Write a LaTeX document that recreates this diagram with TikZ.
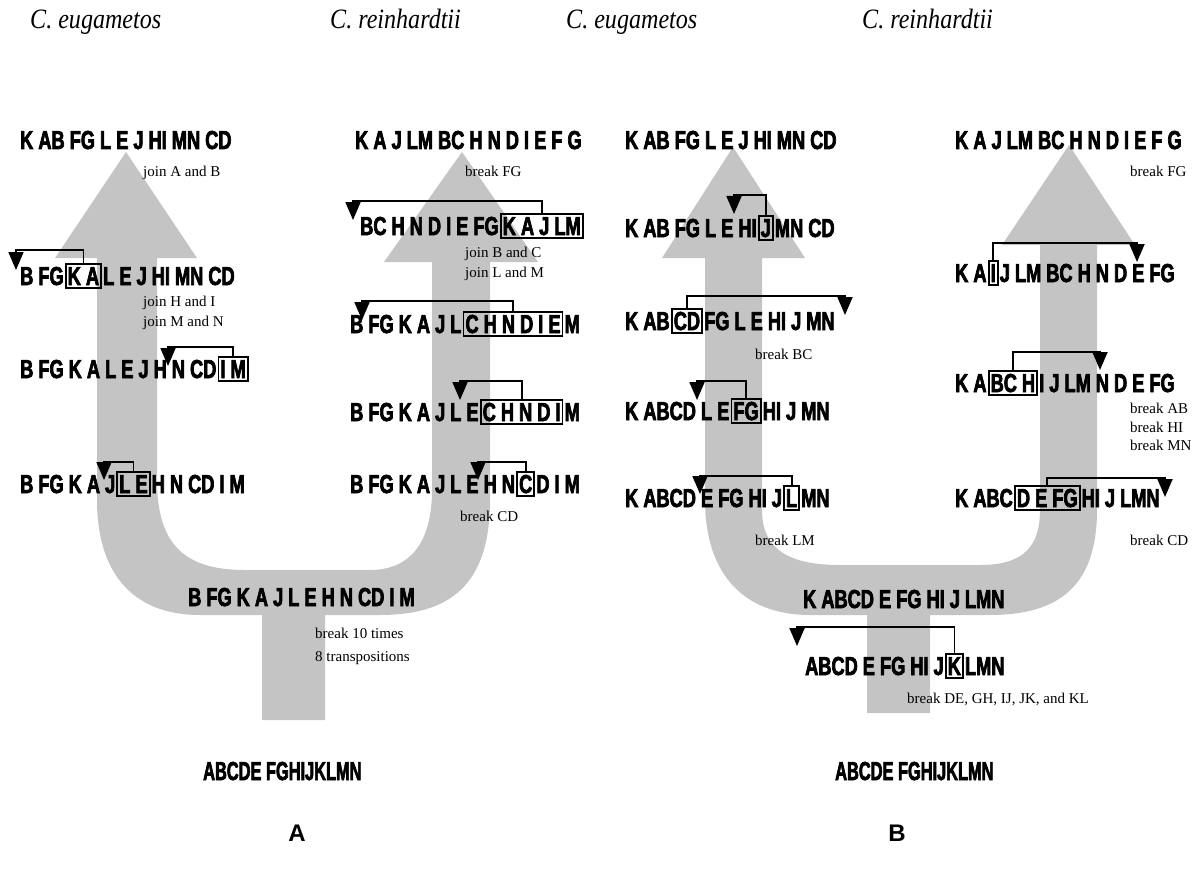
\documentclass[tikz,border=0pt]{standalone}
\usepackage{fontspec}
\setmainfont{Liberation Serif}
\newfontfamily\sqf[FakeStretch=0.7,FakeBold=2.6]{Liberation Sans Bold}
\newfontfamily\labf{Liberation Sans Bold}
\newfontfamily\ttf[FakeStretch=0.86]{Liberation Serif Italic}
\usetikzlibrary{arrows.meta}
\tikzset{
  seq/.style={font=\sqf\fontsize{26}{30}\selectfont, inner sep=0pt, anchor=base west},
  bx/.style={seq, draw, line width=1.8pt, inner xsep=2pt, inner ysep=3pt},
  note/.style={font=\fontsize{15}{18}\selectfont, inner sep=0pt, anchor=base west},
  ttl/.style={font=\ttf\fontsize{28}{32}\selectfont, inner sep=0pt, anchor=base west},
  lab/.style={font=\labf\fontsize{24}{28}\selectfont, inner sep=0pt},
  brk/.style={line width=1.8pt, -{Triangle[width=15pt,length=18pt]}},
  band/.style={fill=black!23, draw=none}
}
\begin{document}
\begin{tikzpicture}[x=1pt,y=-1pt]
\useasboundingbox (0,0) rectangle (1192,872);
% ---------- gray arrows ----------
\fill[band] (126,152) -- (197,258) -- (157,258) -- (157,480)
  .. controls (157,545) and (185,570) .. (245,570) -- (370,570)
  .. controls (412,570) and (432,540) .. (432,490) -- (432,262) -- (384,262)
  -- (462,152) -- (538,262) -- (490,262) -- (490,500)
  .. controls (490,585) and (450,615) .. (380,615) -- (325,615) -- (325,720)
  -- (262,720) -- (262,615) -- (200,615)
  .. controls (130,615) and (97,570) .. (97,500) -- (97,258) -- (55,258) -- cycle;
\fill[band] (733,147) -- (805,258) -- (762,258) -- (762,510)
  .. controls (762,550) and (790,565) .. (840,565) -- (980,565)
  .. controls (1025,565) and (1040,545) .. (1040,510) -- (1040,245) -- (1002,245)
  -- (1069,145) -- (1135,245) -- (1097,245) -- (1097,510)
  .. controls (1097,585) and (1060,615) .. (990,615) -- (930,615) -- (930,713)
  -- (867,713) -- (867,615) -- (810,615)
  .. controls (740,615) and (705,570) .. (705,500) -- (705,258) -- (662,258) -- cycle;
% ---------- titles ----------
\node[ttl] (t1) at (30,29) {C. eugametos};
\node[ttl] (t2) at (330,29) {C. reinhardtii};
\node[ttl] (t3) at (566,29) {C. eugametos};
\node[ttl] (t4) at (862,29) {C. reinhardtii};
% ================= PANEL A =================
% left column
\node[seq] (a11) at (20,149) {K AB FG L E J HI MN CD};
\node[note] (na1) at (143,176) {join A and B};
\node[seq] (a21) at (20,285) {B FG};
\node[bx] (a2b) at ([xshift=1pt]a21.base east) {K A};
\node[seq] (a22) at ([xshift=1pt]a2b.base east) {L E J HI MN CD};
\coordinate (a2c) at (16,250); \coordinate (a2t) at (16,270);
\draw[brk] (a2b.north) |- (a2c) -- (a2t);
\node[note] (na2) at (143,306) {join H and I};
\node[note] (na3) at (143,326) {join M and N};
\node[seq] (a31) at (20,378) {B FG K A L E J H N CD};
\node[bx] (a3b) at ([xshift=1pt]a31.base east) {I M};
\coordinate (a3c) at (168,347); \coordinate (a3t) at (168,366);
\draw[brk] (a3b.north) |- (a3c) -- (a3t);
\node[seq] (a41) at (20,493) {B FG K A J};
\node[bx] (a4b) at ([xshift=1pt]a41.base east) {L E};
\node[seq] (a42) at ([xshift=1pt]a4b.base east) {H N CD I M};
\coordinate (a4c) at (104,462); \coordinate (a4t) at (104,480);
\draw[brk] (a4b.north) |- (a4c) -- (a4t);
% right column
\node[seq] (b11) at (355,149) {K A J LM BC H N D I E F G};
\node[note] (nb1) at (465,176) {break FG};
\node[seq] (b21) at (360,235) {BC H N D I E FG};
\node[bx] (b2b) at ([xshift=1pt]b21.base east) {K A J LM};
\coordinate (b2c) at (353,201); \coordinate (b2t) at (353,220);
\draw[brk] (b2b.north) |- (b2c) -- (b2t);
\node[note] (nb2) at (465,257) {join B and C};
\node[note] (nb3) at (465,277) {join L and M};
\node[seq] (b31) at (350,333) {B FG K A J L};
\node[bx] (b3b) at ([xshift=1pt]b31.base east) {C H N D I E};
\node[seq] (b32) at ([xshift=1pt]b3b.base east) {M};
\coordinate (b3c) at (362,301); \coordinate (b3t) at (362,320);
\draw[brk] (b3b.north) |- (b3c) -- (b3t);
\node[seq] (b41) at (350,421) {B FG K A J L E};
\node[bx] (b4b) at ([xshift=1pt]b41.base east) {C H N D I};
\node[seq] (b42) at ([xshift=1pt]b4b.base east) {M};
\coordinate (b4c) at (460,381); \coordinate (b4t) at (460,400);
\draw[brk] (b4b.north) |- (b4c) -- (b4t);
\node[seq] (b51) at (350,493) {B FG K A J L E H N};
\node[bx] (b5b) at ([xshift=1pt]b51.base east) {C};
\node[seq] (b52) at ([xshift=1pt]b5b.base east) {D I M};
\coordinate (b5c) at (478,462); \coordinate (b5t) at (478,480);
\draw[brk] (b5b.north) |- (b5c) -- (b5t);
\node[note] (nb4) at (460,521) {break CD};
% bottom
\node[seq] (a0) at (188,606) {B FG K A J L E H N CD I M};
\node[note] (na4) at (315,638) {break 10 times};
\node[note] (na5) at (315,661) {8 transpositions};
\node[seq] (aroot) at (203,780) {\scalebox{0.9}[1]{ABCDE FGHIJKLMN}};
\node[lab] (lA) at (297,833) {A};
% ================= PANEL B =================
% left column
\node[seq] (c11) at (625,149) {K AB FG L E J HI MN CD};
\node[seq] (c21) at (625,237) {K AB FG L E HI};
\node[bx] (c2b) at ([xshift=1pt]c21.base east) {J};
\node[seq] (c22) at ([xshift=1pt]c2b.base east) {MN CD};
\coordinate (c2c) at (734,195); \coordinate (c2t) at (734,214);
\draw[brk] (c2b.north) |- (c2c) -- (c2t);
\node[seq] (c31) at (625,330) {K AB};
\node[bx] (c3b) at ([xshift=1pt]c31.base east) {CD};
\node[seq] (c32) at ([xshift=1pt]c3b.base east) {FG L E HI J MN};
\coordinate (c3c) at (845,296); \coordinate (c3t) at (845,315);
\draw[brk] (c3b.north) |- (c3c) -- (c3t);
\node[note] (nc1) at (755,359) {break BC};
\node[seq] (c41) at (625,420) {K ABCD L E};
\node[bx] (c4b) at ([xshift=1pt]c41.base east) {FG};
\node[seq] (c42) at ([xshift=1pt]c4b.base east) {HI J MN};
\coordinate (c4c) at (697,381); \coordinate (c4t) at (697,400);
\draw[brk] (c4b.north) |- (c4c) -- (c4t);
\node[seq] (c51) at (625,507) {K ABCD E FG HI J};
\node[bx] (c5b) at ([xshift=1pt]c51.base east) {L};
\node[seq] (c52) at ([xshift=1pt]c5b.base east) {MN};
\coordinate (c5c) at (700,476); \coordinate (c5t) at (700,494);
\draw[brk] (c5b.north) |- (c5c) -- (c5t);
\node[note] (nc2) at (755,545) {break LM};
% right column
\node[seq] (d11) at (955,149) {K A J LM BC H N D I E F G};
\node[note] (nd1) at (1130,176) {break FG};
\node[seq] (d21) at (955,282) {K A};
\node[bx] (d2b) at ([xshift=1pt]d21.base east) {I};
\node[seq] (d22) at ([xshift=1pt]d2b.base east) {J LM BC H N D E FG};
\coordinate (d2c) at (1137,243); \coordinate (d2t) at (1137,262);
\draw[brk] (d2b.north) |- (d2c) -- (d2t);
\node[seq] (d31) at (955,392) {K A};
\node[bx] (d3b) at ([xshift=1pt]d31.base east) {BC H};
\node[seq] (d32) at ([xshift=1pt]d3b.base east) {I J LM N D E FG};
\coordinate (d3c) at (1100,352); \coordinate (d3t) at (1100,370);
\draw[brk] (d3b.north) |- (d3c) -- (d3t);
\node[note] (nd2) at (1130,413) {break AB};
\node[note] (nd3) at (1130,432) {break HI};
\node[note] (nd4) at (1130,450) {break MN};
\node[seq] (d41) at (955,507) {K ABC};
\node[bx] (d4b) at ([xshift=1pt]d41.base east) {D E FG};
\node[seq] (d42) at ([xshift=1pt]d4b.base east) {HI J LMN};
\coordinate (d4c) at (1165,478); \coordinate (d4t) at (1165,497);
\draw[brk] (d4b.north) |- (d4c) -- (d4t);
\node[note] (nd5) at (1130,545) {break CD};
% bottom
\node[seq] (c0) at (803,608) {K ABCD E FG HI J LMN};
\node[seq] (c61) at (805,675) {ABCD E FG HI J};
\node[bx] (c6b) at ([xshift=1pt]c61.base east) {K};
\node[seq] (c62) at ([xshift=1pt]c6b.base east) {LMN};
\coordinate (c6c) at (797,627); \coordinate (c6t) at (797,646);
\draw[brk] (c6b.north) |- (c6c) -- (c6t);
\node[note] (nc3) at (907,703) {break DE, GH, IJ, JK, and KL};
\node[seq] (croot) at (835,780) {\scalebox{0.9}[1]{ABCDE FGHIJKLMN}};
\node[lab] (lB) at (897,833) {B};
\end{tikzpicture}
\end{document}
